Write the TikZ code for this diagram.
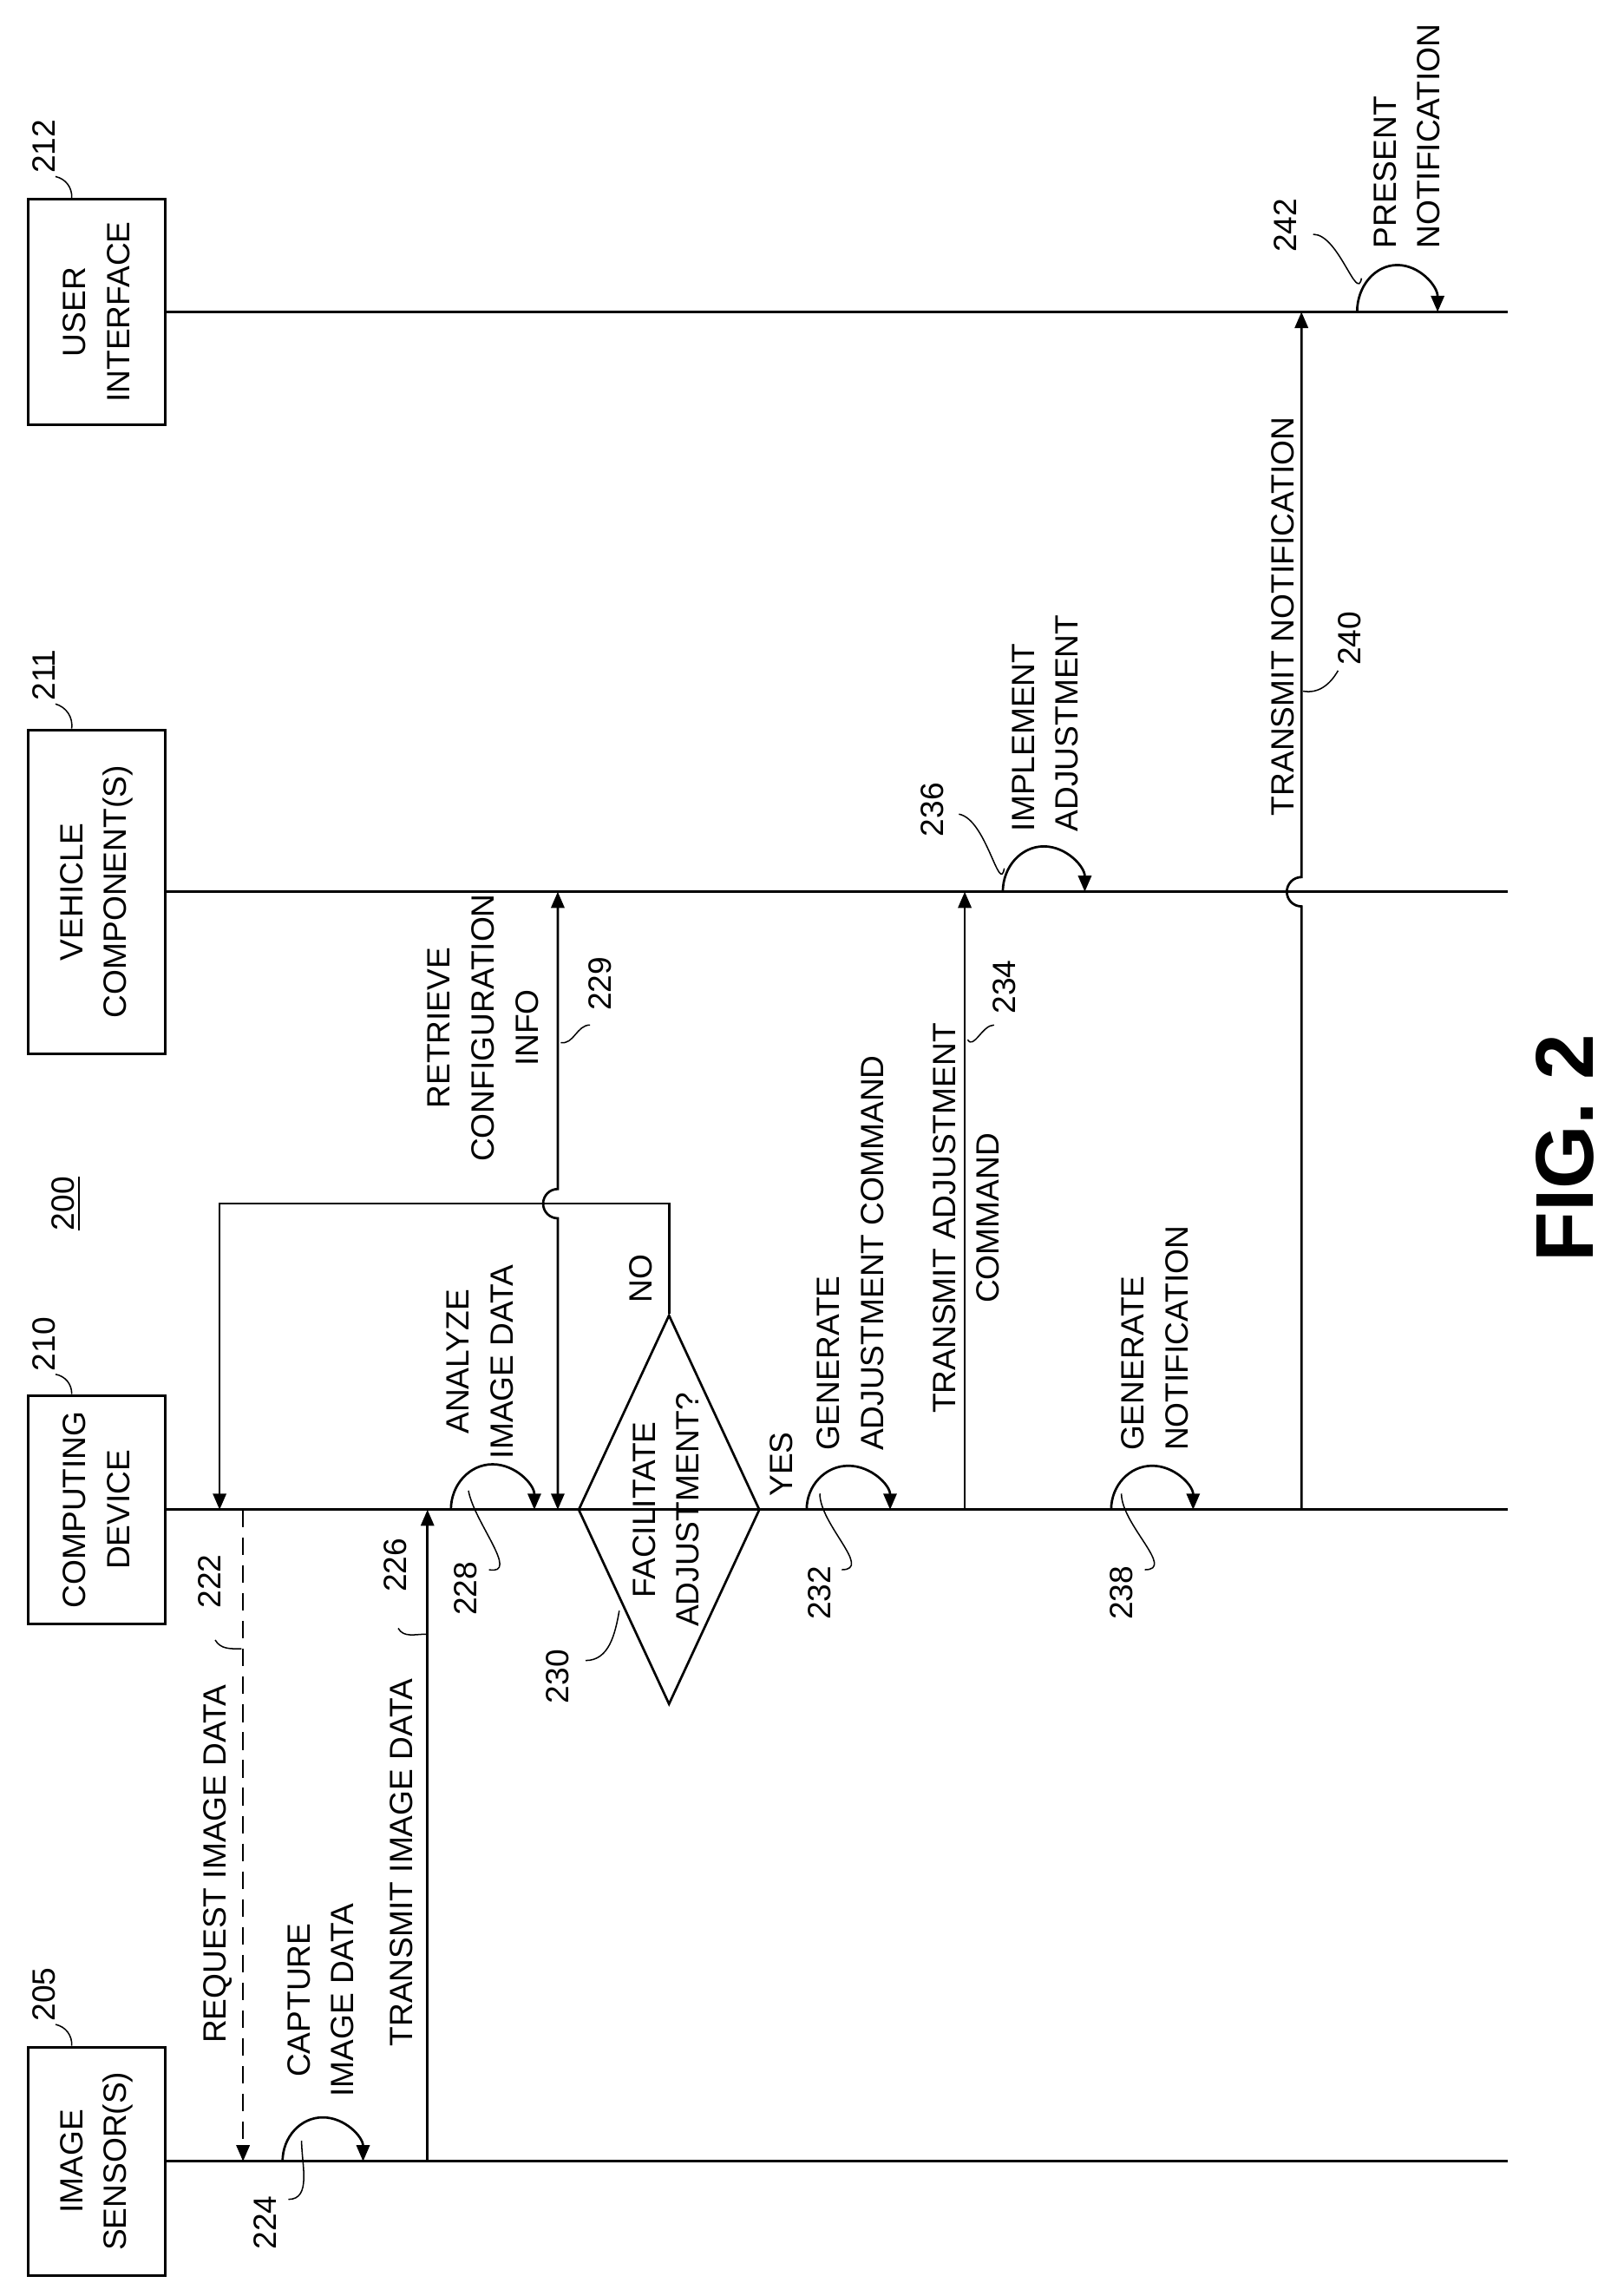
\documentclass[tikz,border=0pt]{standalone}
\usepackage{fontspec}
\setmainfont{Liberation Sans}
\usetikzlibrary{arrows.meta,shapes.geometric}
\begin{document}
\begin{tikzpicture}[x=1pt,y=-1pt,
  font=\fontsize{22}{30}\selectfont,
  life/.style={line width=1.6pt},
  msg/.style={line width=1.6pt,-{Triangle[length=11pt,width=9pt]}},
  lead/.style={line width=0.9pt},
  box/.style={draw,line width=1.8pt,rotate=90,align=center,inner sep=0pt,minimum height=94pt},
  lbl/.style={rotate=90,align=center,inner sep=0pt},
  lbll/.style={rotate=90,align=left,inner sep=0pt,anchor=west}]
\useasboundingbox (0,0) rectangle (1100,1568);
% boxes
\node[box,minimum width=156pt] (is) at (66,1476) {IMAGE\\SENSOR(S)};
\node[box,minimum width=156pt] (cd) at (66,1031) {COMPUTING\\DEVICE};
\node[box,minimum width=221pt] (vc) at (66,609) {VEHICLE\\COMPONENT(S)};
\node[box,minimum width=154pt] (ui) at (66,213) {USER\\INTERFACE};
% lifelines ends
\coordinate (isE) at (1030,1476);
\coordinate (cdE) at (1030,1031);
\coordinate (vcE) at (1030,609);
\coordinate (uiE) at (1030,213);
\draw[life] (is.south) -- (isE);
\draw[life] (cd.south) -- (cdE);
\draw[life] (vc.south) -- (vcE);
\draw[life] (ui.south) -- (uiE);
% ref numbers of boxes
\node[lbl] (n205) at (30,1362) {205};
\node[lbl] (n210) at (30,918) {210};
\node[lbl] (n211) at (30,461) {211};
\node[lbl] (n212) at (30,100) {212};
\path (is.east) ++(-17,0) coordinate (is205);
\path (cd.east) ++(-17,0) coordinate (cd210);
\path (vc.east) ++(-17,0) coordinate (vc211);
\path (ui.east) ++(-17,0) coordinate (ui212);
\draw[lead] (n205.south west) ++(0,2) to[bend left=40] (is205);
\draw[lead] (n210.south west) ++(0,2) to[bend left=40] (cd210);
\draw[lead] (n211.south west) ++(0,2) to[bend left=40] (vc211);
\draw[lead] (n212.south west) ++(0,2) to[bend left=40] (ui212);
\node[lbl] (n200) at (43,822) {200};
\draw[line width=1.2pt] ([xshift=3pt]n200.south west) -- ([xshift=3pt]n200.south east);
% 222 request
\coordinate (r1) at (166,1031);
\coordinate (r2) at (166,1476);
\draw[msg,dash pattern=on 12pt off 7pt] (r1) -- (r2);
\node[lbl] (t222) at (149,1273) {REQUEST IMAGE DATA};
\node[lbl] (n222) at (143,1080) {222};
\draw[lead] (147,1120) to[out=-60,in=180] (165,1126);
% 224 capture loop
\coordinate (c1) at (193,1476);
\draw[msg] (c1) arc[start angle=180,end angle=360,x radius=27.5,y radius=30];
\node[lbl] (t224) at (219,1366) {CAPTURE\\IMAGE DATA};
\node[lbl] (n224) at (181,1518) {224};
\draw[lead] (197,1502) to[out=0,in=-90] (206,1462);
% 226 transmit image data
\coordinate (ti1) at (292,1476);
\coordinate (ti2) at (292,1031);
\draw[msg] (ti1) -- (ti2);
\node[lbl] (t226) at (274,1272) {TRANSMIT IMAGE DATA};
\node[lbl] (n226) at (270,1069) {226};
\draw[lead] (272,1112) to[out=-60,in=180] (291,1116);
% 228 analyze loop
\coordinate (a1) at (308,1031);
\draw[msg] (a1) arc[start angle=180,end angle=360,x radius=28.5,y radius=31];
\node[lbl] (t228) at (328,930) {ANALYZE\\IMAGE DATA};
\node[lbl] (n228) at (318,1085) {228};
\draw[lead] (334,1072) to[out=-10,in=-80] (320,1018);
% diamond 230
\node[diamond,draw,line width=1.6pt,minimum width=266pt,minimum height=124pt,inner sep=0pt,rotate=90] (dm) at (457,1031) {};
\node[lbl] (t230) at (455,1031) {FACILITATE\\ADJUSTMENT?};
\node[lbl] (n230) at (381,1145) {230};
\draw[lead] (400,1134) to[out=0,in=-100] (423,1100);
% NO loop
\coordinate (lp1) at (457,822);
\coordinate (lp2) at (150,822);
\coordinate (lp3) at (150,1031);
\draw[msg] (dm.east) -- (lp1) -- (lp2) -- (lp3);
\node[lbl] (tno) at (438,873) {NO};
\node[lbl] (tyes) at (534,1000) {YES};
% 229 retrieve configuration
\coordinate (rc1) at (381,1031);
\coordinate (rc2) at (381,609);
\draw[line width=1.6pt,{Triangle[length=11pt,width=9pt]}-{Triangle[length=11pt,width=9pt]}] (rc1) -- (381,832) arc[start angle=90,end angle=270,radius=10] -- (rc2);
\node[lbl] (t229) at (330,702) {RETRIEVE\\CONFIGURATION\\INFO};
\node[lbl] (n229) at (410,672) {229};
\draw[lead] (383,712) to[out=-10,in=180] (403,700);
% 232 generate adjustment command
\coordinate (g1) at (551,1031);
\draw[msg] (g1) arc[start angle=180,end angle=360,x radius=28.5,y radius=30];
\node[lbll] (t232) at (581,991) {GENERATE\\ADJUSTMENT COMMAND};
\node[lbl] (n232) at (560,1088) {232};
\draw[lead] (575,1072) to[out=0,in=-90] (560,1020);
% 234 transmit adjustment command
\coordinate (ta1) at (659,1031);
\coordinate (ta2) at (659,609);
\draw[msg] (ta1) -- (ta2);
\node[lbl] (t234) at (660,832) {TRANSMIT ADJUSTMENT\\COMMAND};
\node[lbl] (n234) at (686,674) {234};
\draw[lead] (661,710) to[out=-60,in=180] (679,700);
% 236 implement adjustment
\coordinate (i1) at (685,609);
\draw[msg] (i1) arc[start angle=180,end angle=360,x radius=28,y radius=31];
\node[lbll] (t236) at (714,568) {IMPLEMENT\\ADJUSTMENT};
\node[lbl] (n236) at (637,553) {236};
\draw[lead] (655,556) to[out=-10,in=-100] (686,593);
% 238 generate notification
\coordinate (gn1) at (759,1031);
\draw[msg] (gn1) arc[start angle=180,end angle=360,x radius=28,y radius=30];
\node[lbll] (t238) at (789,991) {GENERATE\\NOTIFICATION};
\node[lbl] (n238) at (766,1088) {238};
\draw[lead] (782,1072) to[out=0,in=-90] (766,1020);
% 240 transmit notification
\coordinate (tn1) at (889,1031);
\coordinate (tn2) at (889,213);
\draw[msg] (tn1) -- (889,619) arc[start angle=90,end angle=270,radius=10] -- (tn2);
\node[lbl] (t240) at (876,421) {TRANSMIT NOTIFICATION};
\node[lbl] (n240) at (922,436) {240};
\draw[lead] (890,472) to[out=-10,in=-120] (914,458);
% 242 present notification
\coordinate (p1) at (927,213);
\draw[msg] (p1) arc[start angle=180,end angle=360,x radius=27.5,y radius=32];
\node[lbll] (t242) at (961,170) {PRESENT\\NOTIFICATION};
\node[lbl] (n242) at (878,154) {242};
\draw[lead] (897,160) to[out=0,in=-100] (930,190);
% FIG
\node[lbl,font=\fontsize{56}{60}\selectfont\bfseries] (fig) at (1069,784) {FIG. 2};
\end{tikzpicture}
\end{document}
